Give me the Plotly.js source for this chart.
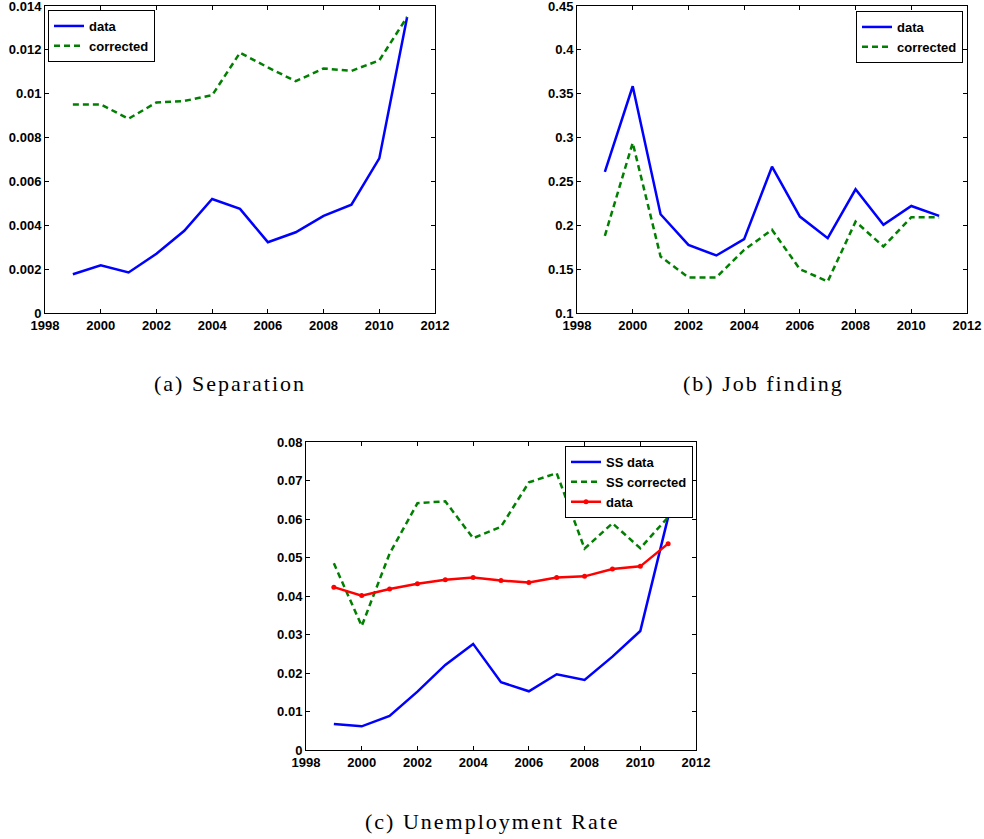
<!DOCTYPE html>
<html>
<head>
<meta charset="utf-8">
<script src="https://cdn.plot.ly/plotly-3.0.1.min.js"></script>
<style>
  html, body { margin: 0; padding: 0; background: #ffffff; }
  #fig { width: 984px; height: 839px; }
  .annotation-text { letter-spacing: 2px; }
  .xtick text, .ytick text, .legendtext { font-weight: bold !important; }
</style>
</head>
<body>
<div id="fig"></div>
<script>
// Years shared by all three panels
const years = [1999, 2000, 2001, 2002, 2003, 2004, 2005, 2006, 2007, 2008, 2009, 2010, 2011];

// (a) Separation rate
const sepData      = [0.00177, 0.00218, 0.00185, 0.0027, 0.00375, 0.0052, 0.00475, 0.00323, 0.00368, 0.00443, 0.00494, 0.00705, 0.0135];
const sepCorrected = [0.00951, 0.00951, 0.00886, 0.0096, 0.00967, 0.00993, 0.01187, 0.0112, 0.01057, 0.01115, 0.01104, 0.01152, 0.0135];

// (b) Job finding rate
const jfData      = [0.261, 0.3585, 0.2126, 0.1777, 0.1656, 0.1842, 0.2668, 0.2099, 0.1853, 0.241, 0.2005, 0.222, 0.2107];
const jfCorrected = [0.188, 0.294, 0.1644, 0.1406, 0.1406, 0.172, 0.1948, 0.150, 0.136, 0.2042, 0.1758, 0.2092, 0.209];

// (c) Unemployment rate
const urSSData      = [0.00676, 0.00615, 0.00884, 0.01517, 0.0221, 0.02756, 0.0176, 0.01525, 0.01967, 0.0182, 0.02426, 0.0309, 0.0605];
const urSSCorrected = [0.0485, 0.0322, 0.051, 0.0641, 0.0646, 0.055, 0.058, 0.0695, 0.0719, 0.0523, 0.0589, 0.0524, 0.0605];
const urData        = [0.0423, 0.0401, 0.0418, 0.0432, 0.0442, 0.0448, 0.044, 0.0435, 0.0448, 0.0451, 0.047, 0.0477, 0.0536];

// Tick labels
const yearTicks = ['1998', '2000', '2002', '2004', '2006', '2008', '2010', '2012'];
const sepTicks  = ['0', '0.002', '0.004', '0.006', '0.008', '0.01', '0.012', '0.014'];
const jfTicks   = ['0.1', '0.15', '0.2', '0.25', '0.3', '0.35', '0.4', '0.45'];
const urTicks   = ['0', '0.01', '0.02', '0.03', '0.04', '0.05', '0.06', '0.07', '0.08'];

const W = 984, H = 839;
const BLUE = '#0000ff', GREEN = '#007f00', RED = '#ff0000';
const LW = 2.5;
const DASH = '6px,4px';
const tickFont = {family: 'Liberation Sans, Arial, sans-serif', size: 13, color: '#000', weight: 'bold'};
const legFont = {family: 'Liberation Sans, Arial, sans-serif', size: 13, color: '#000', weight: 'bold'};

function px(x0, x1) { return [x0 / W, x1 / W]; }
function py(top, bottom) { return [1 - bottom / H, 1 - top / H]; }

function axisBase(domain, anchor, range, labels) {
  return {
    domain: domain, anchor: anchor, range: range,
    tickmode: 'array', tickvals: labels.map(Number), ticktext: labels,
    ticklabeloverflow: 'allow',
    showline: true, linecolor: '#000', linewidth: 1, mirror: 'ticks',
    ticks: 'inside', ticklen: 4, tickcolor: '#000', tickwidth: 1,
    showgrid: false, zeroline: false, tickfont: tickFont, fixedrange: true
  };
}
function legendBox(x, y, xanchor) {
  return {
    x: x, y: y, xanchor: xanchor, yanchor: 'top',
    bgcolor: '#ffffff', bordercolor: '#000', borderwidth: 1,
    font: legFont, tracegroupgap: 0, itemwidth: 30
  };
}

const traces = [
  {x: years, y: sepData, name: 'data', type: 'scatter', mode: 'lines',
   line: {color: BLUE, width: LW}, xaxis: 'x', yaxis: 'y', legend: 'legend'},
  {x: years, y: sepCorrected, name: 'corrected', type: 'scatter', mode: 'lines',
   line: {color: GREEN, width: LW, dash: DASH}, xaxis: 'x', yaxis: 'y', legend: 'legend'},

  {x: years, y: jfData, name: 'data', type: 'scatter', mode: 'lines',
   line: {color: BLUE, width: LW}, xaxis: 'x2', yaxis: 'y2', legend: 'legend2'},
  {x: years, y: jfCorrected, name: 'corrected', type: 'scatter', mode: 'lines',
   line: {color: GREEN, width: LW, dash: DASH}, xaxis: 'x2', yaxis: 'y2', legend: 'legend2'},

  {x: years, y: urSSData, name: 'SS data', type: 'scatter', mode: 'lines',
   line: {color: BLUE, width: LW}, xaxis: 'x3', yaxis: 'y3', legend: 'legend3'},
  {x: years, y: urSSCorrected, name: 'SS corrected', type: 'scatter', mode: 'lines',
   line: {color: GREEN, width: LW, dash: DASH}, xaxis: 'x3', yaxis: 'y3', legend: 'legend3'},
  {x: years, y: urData, name: 'data', type: 'scatter', mode: 'lines+markers',
   line: {color: RED, width: LW}, marker: {color: RED, size: 5, symbol: 'circle'},
   xaxis: 'x3', yaxis: 'y3', legend: 'legend3'}
];

const captionFont = {family: 'Liberation Serif, Times New Roman, serif', size: 22, color: '#000'};

const layout = {
  width: W, height: H,
  margin: {l: 0, r: 0, t: 0, b: 0},
  paper_bgcolor: '#ffffff', plot_bgcolor: '#ffffff',
  showlegend: true,
  xaxis:  axisBase(px(45, 435), 'y', [1998, 2012], yearTicks),
  yaxis:  axisBase(py(6, 313), 'x', [0, 0.014], sepTicks),
  xaxis2: axisBase(px(577, 967), 'y2', [1998, 2012], yearTicks),
  yaxis2: axisBase(py(6, 313), 'x2', [0.1, 0.45], jfTicks),
  xaxis3: axisBase(px(306, 696), 'y3', [1998, 2012], yearTicks),
  yaxis3: axisBase(py(442, 750), 'x3', [0, 0.08], urTicks),
  legend:  legendBox(48 / W, 1 - 10 / H, 'left'),
  legend2: legendBox(963 / W, 1 - 11 / H, 'right'),
  legend3: legendBox(693 / W, 1 - 446 / H, 'right'),
  annotations: [
    {text: '(a) Separation', xref: 'paper', yref: 'paper', x: 230 / W, y: 1 - 383 / H,
     xanchor: 'center', yanchor: 'middle', showarrow: false, font: captionFont},
    {text: '(b) Job finding', xref: 'paper', yref: 'paper', x: 763 / W, y: 1 - 383 / H,
     xanchor: 'center', yanchor: 'middle', showarrow: false, font: captionFont},
    {text: '(c) Unemployment Rate', xref: 'paper', yref: 'paper', x: 492 / W, y: 1 - 821 / H,
     xanchor: 'center', yanchor: 'middle', showarrow: false, font: captionFont}
  ]
};

Plotly.newPlot('fig', traces, layout, {displayModeBar: false, staticPlot: true});
</script>
</body>
</html>
